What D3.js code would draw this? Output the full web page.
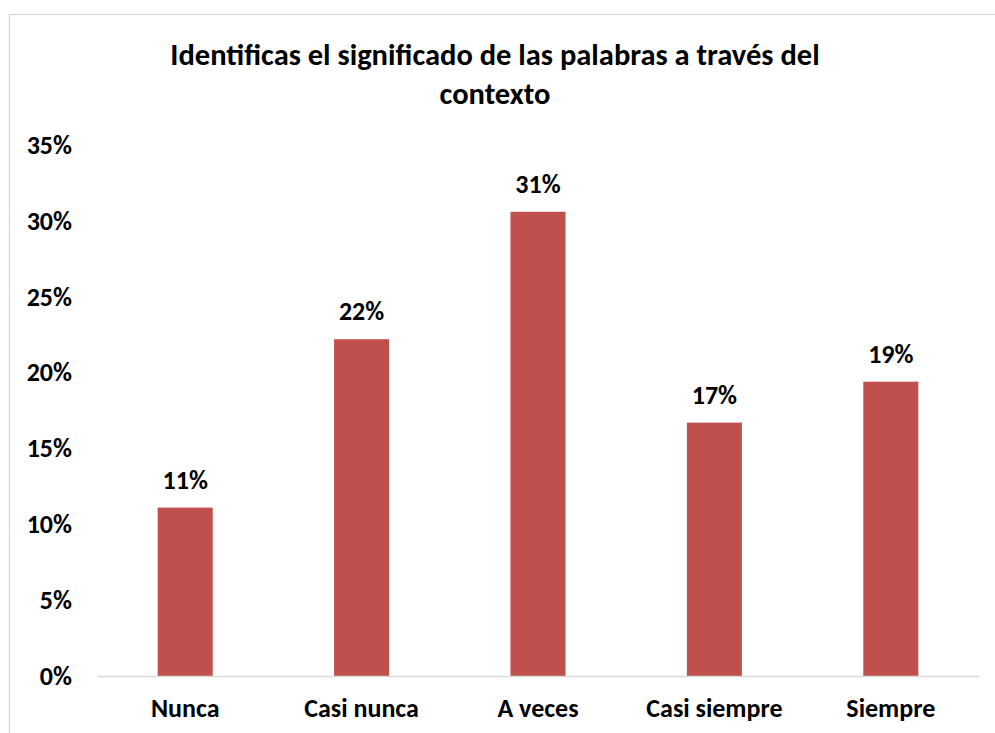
<!DOCTYPE html>
<html>
<head>
<meta charset="utf-8">
<script src="https://cdn.jsdelivr.net/npm/d3@7"></script>
<style>
  body { margin: 0; background: #fff; }
  text { font-family: Carlito, Lato, "Open Sans", sans-serif; font-weight: bold; fill: #000; }
</style>
</head>
<body>
<script>
// data
var categories = ['Nunca', 'Casi nunca', 'A veces', 'Casi siempre', 'Siempre'];
var values = [0.111, 0.222, 0.306, 0.167, 0.194];
var valueLabels = ['11%', '22%', '31%', '17%', '19%'];
var yTicks = [0, 0.05, 0.10, 0.15, 0.20, 0.25, 0.30, 0.35];
var titleLines = ['Identificas el significado de las palabras a través del', 'contexto'];

var W = 995, H = 733;
var plotLeft = 97, plotRight = 979, plotTop = 145, plotBottom = 676;
var labelFont = '26px';

var svg = d3.select('body').append('svg')
  .attr('width', W).attr('height', H);

// chart border
svg.append('rect')
  .attr('x', 9.5).attr('y', 14.5)
  .attr('width', 1000).attr('height', 800)
  .attr('fill', 'none').attr('stroke', '#d9d9d9').attr('stroke-width', 1.3);

// title
svg.append('g').selectAll('text')
  .data(titleLines)
  .enter().append('text')
  .attr('x', 495)
  .attr('y', function(d, i){ return 65 + i * 39; })
  .attr('text-anchor', 'middle')
  .attr('font-size', '30.5px')
  .text(function(d){ return d; });

var x = d3.scaleBand()
  .domain(categories)
  .range([plotLeft, plotRight])
  .paddingInner(0.688)
  .paddingOuter(0.344);

var y = d3.scaleLinear()
  .domain([0, 0.35])
  .range([plotBottom, plotTop]);

// y axis labels
var yAxis = d3.axisLeft(y)
  .tickValues(yTicks)
  .tickFormat(d3.format('.0%'))
  .tickSize(0)
  .tickPadding(0);

svg.append('g')
  .attr('transform', 'translate(72,0)')
  .call(yAxis)
  .call(function(g){ g.select('.domain').remove(); })
  .selectAll('text')
  .attr('font-size', labelFont)
  .attr('font-family', 'Carlito, Lato, "Open Sans", sans-serif')
  .attr('font-weight', 'bold')
  .attr('fill', '#000');

// bars
svg.append('g').selectAll('rect')
  .data(values)
  .enter().append('rect')
  .attr('x', function(d, i){ return x(categories[i]); })
  .attr('y', function(d){ return y(d); })
  .attr('width', x.bandwidth())
  .attr('height', function(d){ return y(0) - y(d); })
  .attr('fill', '#c0504d');

// value labels
svg.append('g').selectAll('text')
  .data(values)
  .enter().append('text')
  .attr('x', function(d, i){ return x(categories[i]) + x.bandwidth() / 2; })
  .attr('y', function(d){ return y(d) - 19; })
  .attr('text-anchor', 'middle')
  .attr('font-size', labelFont)
  .text(function(d, i){ return valueLabels[i]; });

// x axis baseline and category labels
var xAxis = d3.axisBottom(x).tickSize(0).tickPadding(23);
svg.append('g')
  .attr('transform', 'translate(0,' + plotBottom + ')')
  .call(xAxis)
  .call(function(g){
    g.select('.domain').attr('stroke', '#d9d9d9').attr('stroke-width', 1.5);
  })
  .selectAll('text')
  .attr('font-size', labelFont)
  .attr('font-family', 'Carlito, Lato, "Open Sans", sans-serif')
  .attr('font-weight', 'bold')
  .attr('fill', '#000');
</script>
</body>
</html>
